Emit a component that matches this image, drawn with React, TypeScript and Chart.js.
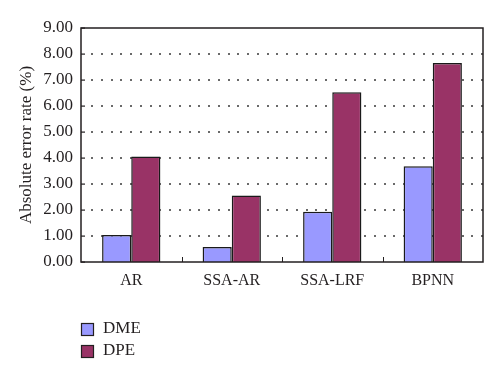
import React, { useEffect, useRef } from "react";
import { Chart, registerables } from "chart.js";

Chart.register(...registerables);

const categories = ["AR", "SSA-AR", "SSA-LRF", "BPNN"];
const dmeValues = [1.04, 0.58, 1.93, 3.68];
const dpeValues = [4.06, 2.56, 6.53, 7.65];
const seriesNames = ["DME", "DPE"];
const yTitle = "Absolute error rate (%)";

const FONT = "'Liberation Serif', 'Times New Roman', serif";
const TEXT = "#231f20";

const gridPlugin = {
  id: "gridPlugin",
  beforeDatasetsDraw(chart: any) {
    const { ctx, chartArea } = chart;
    const y = chart.scales.y;
    ctx.save();
    ctx.fillStyle = "#6a6a6a";
    for (let v = 1; v < 9; v++) {
      const py = Math.round(y.getPixelForValue(v));
      for (let px = chartArea.left + 10; px < chartArea.right - 1; px += 9.75) {
        ctx.fillRect(Math.round(px), py - 1, 2, 2);
      }
    }
    ctx.fillStyle = "#231f20";
    for (let v = 0; v <= 9; v++) {
      const py = Math.round(y.getPixelForValue(v));
      ctx.fillRect(chartArea.left, py - 0.5, 4, 1.2);
    }
    ctx.restore();
  },
};

const boxPlugin = {
  id: "boxPlugin",
  afterDatasetsDraw(chart: any) {
    const { ctx, chartArea } = chart;
    const x = chart.scales.x;
    ctx.save();
    ctx.strokeStyle = "#231f20";
    ctx.lineWidth = 1.5;
    ctx.strokeRect(chartArea.left, chartArea.top, chartArea.right - chartArea.left, chartArea.bottom - chartArea.top);
    ctx.lineWidth = 1;
    for (let i = 1; i < categories.length; i++) {
      const px = Math.round((x.getPixelForValue(i - 1) + x.getPixelForValue(i)) / 2) + 0.5;
      ctx.beginPath();
      ctx.moveTo(px, chartArea.bottom);
      ctx.lineTo(px, chartArea.bottom - 5);
      ctx.stroke();
    }
    // legend
    const ds = chart.data.datasets;
    ctx.font = `17px ${FONT}`;
    ctx.textBaseline = "middle";
    ctx.textAlign = "left";
    ds.forEach((d: any, i: number) => {
      const top = chartArea.bottom + 61 + i * 22;
      const left = chartArea.left;
      ctx.fillStyle = d.backgroundColor;
      ctx.fillRect(left, top, 12, 12);
      ctx.strokeStyle = "#231f20";
      ctx.lineWidth = 1.2;
      ctx.strokeRect(left + 0.5, top + 0.5, 12, 12);
      ctx.fillStyle = TEXT;
      ctx.fillText(d.label, left + 22, top + 6);
    });
    ctx.restore();
  },
};

export default function App() {
  const ref = useRef<HTMLCanvasElement>(null);
  useEffect(() => {
    if (!ref.current) return;
    const chart = new Chart(ref.current, {
      type: "bar",
      data: {
        labels: categories,
        datasets: [
          {
            label: seriesNames[0],
            data: dmeValues,
            backgroundColor: "#9999ff",
            borderColor: "#1a1a1a",
            borderWidth: 1.5,
            categoryPercentage: 0.58,
            barPercentage: 1,
          },
          {
            label: seriesNames[1],
            data: dpeValues,
            backgroundColor: "#993366",
            borderColor: "#1a1a1a",
            borderWidth: 1.5,
            categoryPercentage: 0.58,
            barPercentage: 1,
          },
        ],
      },
      options: {
        responsive: false,
        animation: false,
        layout: { padding: { top: 28, right: 17, bottom: 60, left: 13 } },
        plugins: {
          legend: { display: false },
          tooltip: { enabled: false },
        },
        scales: {
          x: {
            grid: { display: false, drawTicks: false },
            border: { display: false },
            ticks: { color: TEXT, font: { family: FONT, size: 16 }, padding: 9 },
            afterFit: (s: any) => {
              s.height = 56;
            },
          },
          y: {
            min: 0,
            max: 9,
            ticks: {
              stepSize: 1,
              color: TEXT,
              font: { family: FONT, size: 17 },
              padding: 8,
              callback: (v: any) => Number(v).toFixed(2),
            },
            grid: { display: false, drawTicks: false },
            border: { display: false },
            title: {
              display: true,
              text: yTitle,
              color: TEXT,
              font: { family: FONT, size: 17 },
              padding: { top: 3, bottom: 4 },
            },
            afterFit: (s: any) => {
              s.width = 68;
            },
          },
        },
      },
      plugins: [gridPlugin, boxPlugin],
    });
    return () => chart.destroy();
  }, []);
  return (
    <div style={{ position: "fixed", left: 0, top: 0, width: 500, height: 378, background: "#fff" }}>
      <canvas ref={ref} width={500} height={378} />
    </div>
  );
}
